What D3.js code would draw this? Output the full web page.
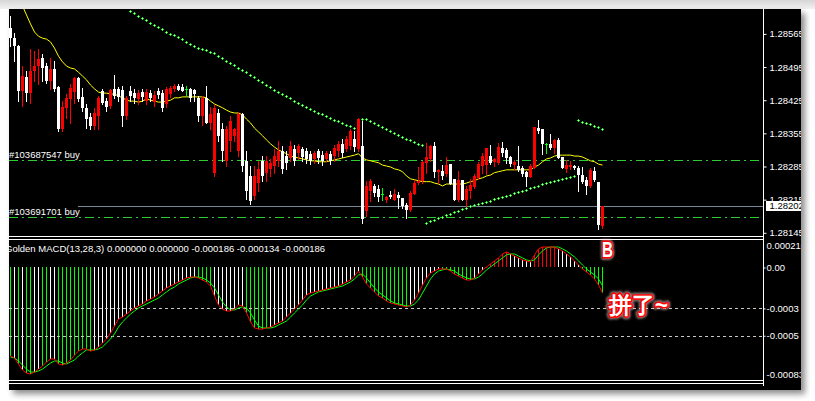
<!DOCTYPE html>
<html><head><meta charset="utf-8">
<script src="https://cdn.jsdelivr.net/npm/d3@7"></script>
<style>
html,body{margin:0;padding:0;background:#fff;overflow:hidden;}
svg{display:block;}
text{font-family:"Liberation Sans",Arial,sans-serif;}
</style></head><body>
<svg id="chart" width="815" height="401"></svg>
<script>
// ---- price bars (oldest first) ----
const open = [1.28577,1.28556,1.28539,1.28444,1.28474,1.28440,1.28487,1.28497,1.28514,1.28497,
1.28465,1.28491,1.28453,1.28364,1.28409,1.28428,1.28442,1.28472,1.28432,1.28409,
1.28390,1.28371,1.28392,1.28444,1.28423,1.28413,1.28449,1.28449,1.28447,1.28392,
1.28444,1.28440,1.28428,1.28442,1.28423,1.28440,1.28421,1.28444,1.28440,1.28417,
1.28438,1.28449,1.28455,1.28453,1.28449,1.28449,1.28447,1.28430,1.28392,1.28430,
1.28377,1.28272,1.28398,1.28364,1.28297,1.28339,1.28350,1.28318,1.28396,1.28297,
1.28265,1.28223,1.28250,1.28297,1.28272,1.28280,1.28286,1.28297,1.28318,1.28307,
1.28303,1.28322,1.28314,1.28322,1.28318,1.28312,1.28301,1.28318,1.28309,1.28301,
1.28312,1.28307,1.28318,1.28333,1.28322,1.28328,1.28343,1.28322,1.28328,1.28191,
1.28234,1.28244,1.28238,1.28227,1.28215,1.28225,1.28215,1.28225,1.28219,1.28204,
1.28193,1.28227,1.28250,1.28255,1.28293,1.28301,1.28328,1.28274,1.28276,1.28269,
1.28290,1.28259,1.28215,1.28257,1.28215,1.28234,1.28242,1.28261,1.28286,1.28288,
1.28307,1.28295,1.28293,1.28324,1.28320,1.28305,1.28288,1.28286,1.28282,1.28274,
1.28263,1.28282,1.28366,1.28364,1.28333,1.28333,1.28324,1.28341,1.28305,1.28280,
1.28284,1.28286,1.28282,1.28267,1.28257,1.28244,1.28276,1.28253,1.28160];
const high = [1.28602,1.28567,1.28541,1.28497,1.28487,1.28533,1.28529,1.28533,1.28522,1.28503,
1.28514,1.28508,1.28455,1.28423,1.28438,1.28459,1.28474,1.28474,1.28451,1.28417,
1.28398,1.28409,1.28434,1.28449,1.28430,1.28449,1.28478,1.28453,1.28455,1.28434,
1.28455,1.28449,1.28447,1.28449,1.28449,1.28447,1.28444,1.28451,1.28447,1.28453,
1.28455,1.28459,1.28459,1.28459,1.28455,1.28451,1.28449,1.28434,1.28434,1.28455,
1.28411,1.28415,1.28406,1.28377,1.28371,1.28392,1.28366,1.28400,1.28398,1.28318,
1.28286,1.28286,1.28297,1.28307,1.28307,1.28301,1.28322,1.28339,1.28328,1.28318,
1.28339,1.28331,1.28333,1.28326,1.28324,1.28318,1.28318,1.28322,1.28318,1.28318,
1.28318,1.28331,1.28339,1.28343,1.28350,1.28364,1.28360,1.28387,1.28385,1.28255,
1.28259,1.28248,1.28246,1.28240,1.28223,1.28234,1.28238,1.28231,1.28219,1.28208,
1.28234,1.28257,1.28284,1.28297,1.28335,1.28331,1.28337,1.28280,1.28288,1.28305,
1.28290,1.28259,1.28276,1.28257,1.28244,1.28259,1.28269,1.28295,1.28314,1.28324,
1.28331,1.28303,1.28335,1.28337,1.28324,1.28307,1.28299,1.28328,1.28286,1.28276,
1.28290,1.28368,1.28383,1.28364,1.28335,1.28354,1.28343,1.28345,1.28305,1.28299,
1.28297,1.28288,1.28286,1.28284,1.28263,1.28282,1.28284,1.28253,1.28202];
const low = [1.28539,1.28508,1.28423,1.28413,1.28423,1.28419,1.28465,1.28459,1.28465,1.28461,
1.28449,1.28444,1.28360,1.28360,1.28387,1.28377,1.28419,1.28423,1.28402,1.28366,
1.28364,1.28364,1.28364,1.28417,1.28402,1.28409,1.28430,1.28423,1.28371,1.28385,
1.28423,1.28419,1.28417,1.28423,1.28417,1.28423,1.28413,1.28430,1.28402,1.28411,
1.28432,1.28444,1.28447,1.28444,1.28434,1.28423,1.28423,1.28381,1.28373,1.28377,
1.28364,1.28265,1.28339,1.28297,1.28286,1.28318,1.28339,1.28307,1.28276,1.28217,
1.28206,1.28217,1.28234,1.28255,1.28255,1.28265,1.28272,1.28286,1.28272,1.28280,
1.28297,1.28288,1.28301,1.28297,1.28293,1.28290,1.28293,1.28293,1.28288,1.28297,
1.28290,1.28297,1.28307,1.28305,1.28318,1.28322,1.28318,1.28318,1.28166,1.28181,
1.28212,1.28223,1.28212,1.28215,1.28210,1.28219,1.28215,1.28198,1.28198,1.28177,
1.28191,1.28227,1.28248,1.28250,1.28272,1.28297,1.28263,1.28250,1.28259,1.28265,
1.28248,1.28215,1.28212,1.28215,1.28202,1.28219,1.28240,1.28259,1.28272,1.28269,
1.28290,1.28286,1.28290,1.28307,1.28293,1.28286,1.28280,1.28276,1.28265,1.28244,
1.28263,1.28282,1.28356,1.28312,1.28314,1.28322,1.28314,1.28303,1.28282,1.28274,
1.28280,1.28280,1.28234,1.28250,1.28227,1.28242,1.28255,1.28154,1.28156];
const close = [1.28556,1.28539,1.28444,1.28476,1.28440,1.28487,1.28497,1.28512,1.28493,1.28465,
1.28491,1.28449,1.28364,1.28411,1.28430,1.28451,1.28472,1.28428,1.28409,1.28385,
1.28371,1.28398,1.28430,1.28419,1.28411,1.28447,1.28434,1.28432,1.28392,1.28430,
1.28434,1.28430,1.28440,1.28432,1.28442,1.28430,1.28436,1.28436,1.28409,1.28449,
1.28451,1.28455,1.28447,1.28444,1.28449,1.28430,1.28438,1.28392,1.28430,1.28377,
1.28396,1.28409,1.28350,1.28318,1.28364,1.28381,1.28364,1.28396,1.28286,1.28234,
1.28212,1.28265,1.28280,1.28265,1.28297,1.28293,1.28307,1.28318,1.28280,1.28293,
1.28328,1.28297,1.28328,1.28305,1.28301,1.28297,1.28314,1.28303,1.28297,1.28314,
1.28297,1.28324,1.28333,1.28314,1.28343,1.28360,1.28326,1.28385,1.28175,1.28244,
1.28255,1.28229,1.28221,1.28227,1.28221,1.28221,1.28227,1.28219,1.28202,1.28193,
1.28229,1.28250,1.28255,1.28295,1.28305,1.28328,1.28274,1.28278,1.28265,1.28288,
1.28248,1.28215,1.28257,1.28215,1.28238,1.28246,1.28265,1.28290,1.28307,1.28324,
1.28293,1.28301,1.28326,1.28314,1.28303,1.28290,1.28295,1.28278,1.28269,1.28263,
1.28286,1.28368,1.28360,1.28333,1.28333,1.28324,1.28341,1.28303,1.28282,1.28288,
1.28288,1.28282,1.28267,1.28253,1.28244,1.28278,1.28257,1.28162,1.28202];

// ---- moving average (yellow) ----
const maLine = [1.28666,1.28651,1.28638,1.28624,1.28605,1.28586,1.28569,1.28560,1.28556,1.28554,
1.28548,1.28535,1.28518,1.28506,1.28497,1.28493,1.28491,1.28484,1.28476,1.28468,
1.28457,1.28449,1.28442,1.28440,1.28440,1.28438,1.28438,1.28434,1.28430,1.28425,
1.28423,1.28423,1.28421,1.28423,1.28428,1.28425,1.28423,1.28421,1.28421,1.28423,
1.28425,1.28430,1.28430,1.28432,1.28432,1.28432,1.28432,1.28432,1.28432,1.28430,
1.28423,1.28417,1.28413,1.28409,1.28404,1.28400,1.28398,1.28398,1.28394,1.28385,
1.28377,1.28366,1.28358,1.28350,1.28341,1.28333,1.28326,1.28320,1.28316,1.28312,
1.28307,1.28305,1.28303,1.28301,1.28299,1.28297,1.28297,1.28295,1.28295,1.28295,
1.28297,1.28299,1.28301,1.28303,1.28305,1.28307,1.28309,1.28312,1.28303,1.28299,
1.28297,1.28295,1.28293,1.28288,1.28286,1.28284,1.28280,1.28278,1.28274,1.28265,
1.28259,1.28257,1.28255,1.28253,1.28253,1.28253,1.28250,1.28248,1.28244,1.28248,
1.28248,1.28248,1.28248,1.28248,1.28250,1.28253,1.28255,1.28259,1.28261,1.28265,
1.28267,1.28272,1.28274,1.28276,1.28278,1.28278,1.28278,1.28278,1.28278,1.28278,
1.28278,1.28284,1.28288,1.28295,1.28301,1.28303,1.28307,1.28309,1.28309,1.28309,
1.28309,1.28307,1.28307,1.28305,1.28301,1.28297,1.28295,1.28290,1.28288];

// ---- parabolic SAR dots (null = not shown) ----
const sar = [null,null,null,null,null,null,null,null,null,null,
null,null,null,null,null,null,null,null,null,null,
null,null,null,null,null,null,null,null,null,null,
1.28613,1.28609,1.28602,1.28598,1.28594,1.28588,1.28584,1.28579,1.28575,1.28569,
1.28565,1.28562,1.28558,1.28554,1.28548,1.28543,1.28539,1.28535,
1.28533,1.28531,1.28527,1.28524,1.28518,1.28514,1.28508,1.28503,1.28499,1.28493,
1.28489,1.28484,1.28478,1.28474,1.28468,1.28463,1.28457,1.28453,1.28447,1.28442,
1.28438,1.28434,1.28430,1.28423,1.28419,1.28415,1.28411,1.28406,1.28402,1.28398,
1.28396,1.28392,1.28387,1.28383,1.28381,1.28377,1.28373,1.28371,1.28366,
null,
1.28385,1.28385,1.28381,1.28377,1.28373,1.28368,1.28364,1.28360,1.28356,1.28352,
1.28347,1.28343,1.28341,1.28337,1.28333,1.28331,
1.28166,1.28169,1.28172,1.28176,1.28178,1.28182,1.28185,1.28188,1.28191,1.28195,
1.28198,1.28201,1.28203,1.28206,1.28208,1.28210,1.28212,1.28216,1.28219,1.28221,
1.28223,1.28225,1.28228,1.28231,1.28234,1.28236,1.28239,1.28242,1.28244,1.28247,
1.28250,1.28253,1.28255,1.28257,1.28259,1.28261,1.28263,1.28264,
1.28383,1.28379,1.28377,1.28375,1.28371,1.28368,1.28364];

// ---- Golden MACD(13,28,3) ----
const macdMain = [-0.000648,-0.000663,-0.000707,-0.000751,-0.000773,-0.000780,-0.000766,-0.000744,-0.000722,-0.000692,
-0.000670,-0.000670,-0.000707,-0.000714,-0.000700,-0.000678,-0.000641,-0.000612,-0.000597,-0.000597,
-0.000612,-0.000604,-0.000582,-0.000553,-0.000524,-0.000480,-0.000429,-0.000377,-0.000363,-0.000341,
-0.000319,-0.000297,-0.000282,-0.000267,-0.000245,-0.000231,-0.000216,-0.000194,-0.000172,-0.000150,
-0.000136,-0.000121,-0.000106,-0.000092,-0.000077,-0.000070,-0.000070,-0.000077,-0.000092,-0.000106,
-0.000136,-0.000209,-0.000275,-0.000304,-0.000319,-0.000319,-0.000304,-0.000275,-0.000282,-0.000333,
-0.000399,-0.000443,-0.000451,-0.000451,-0.000443,-0.000436,-0.000421,-0.000407,-0.000392,-0.000363,
-0.000333,-0.000304,-0.000275,-0.000238,-0.000201,-0.000187,-0.000179,-0.000172,-0.000165,-0.000158,
-0.000150,-0.000143,-0.000136,-0.000121,-0.000106,-0.000092,-0.000062,-0.000026,-0.000070,-0.000121,
-0.000150,-0.000179,-0.000209,-0.000223,-0.000245,-0.000260,-0.000267,-0.000275,-0.000282,-0.000289,
-0.000275,-0.000238,-0.000187,-0.000128,-0.000077,-0.000040,-0.000026,-0.000011,-0.000011,-0.000011,
-0.000026,-0.000048,-0.000062,-0.000077,-0.000092,-0.000092,-0.000077,-0.000048,-0.000018,0.000004,
0.000026,0.000048,0.000070,0.000099,0.000114,0.000099,0.000084,0.000070,0.000055,0.000048,
0.000040,0.000092,0.000136,0.000150,0.000150,0.000150,0.000150,0.000136,0.000121,0.000099,
0.000077,0.000048,0.000018,-0.000011,-0.000033,-0.000055,-0.000084,-0.000128,-0.000186];
const macdSignal = [-0.000656,-0.000663,-0.000685,-0.000714,-0.000744,-0.000766,-0.000766,-0.000758,-0.000744,-0.000722,
-0.000700,-0.000685,-0.000685,-0.000700,-0.000707,-0.000692,-0.000678,-0.000648,-0.000626,-0.000604,
-0.000604,-0.000604,-0.000597,-0.000582,-0.000553,-0.000524,-0.000487,-0.000436,-0.000399,-0.000370,
-0.000341,-0.000319,-0.000297,-0.000282,-0.000267,-0.000253,-0.000238,-0.000223,-0.000201,-0.000179,
-0.000158,-0.000143,-0.000121,-0.000106,-0.000092,-0.000077,-0.000070,-0.000070,-0.000077,-0.000092,
-0.000114,-0.000150,-0.000201,-0.000253,-0.000289,-0.000311,-0.000311,-0.000297,-0.000289,-0.000297,
-0.000333,-0.000385,-0.000429,-0.000443,-0.000443,-0.000443,-0.000436,-0.000421,-0.000407,-0.000392,
-0.000363,-0.000333,-0.000304,-0.000275,-0.000238,-0.000209,-0.000194,-0.000179,-0.000172,-0.000165,
-0.000158,-0.000150,-0.000143,-0.000136,-0.000121,-0.000106,-0.000084,-0.000055,-0.000048,-0.000077,
-0.000114,-0.000150,-0.000179,-0.000201,-0.000223,-0.000245,-0.000260,-0.000267,-0.000275,-0.000282,
-0.000282,-0.000267,-0.000238,-0.000187,-0.000136,-0.000084,-0.000048,-0.000026,-0.000018,-0.000011,
-0.000018,-0.000026,-0.000048,-0.000062,-0.000077,-0.000084,-0.000084,-0.000070,-0.000048,-0.000018,
0.000004,0.000026,0.000048,0.000070,0.000092,0.000099,0.000099,0.000084,0.000070,0.000055,
0.000048,0.000055,0.000092,0.000121,0.000143,0.000150,0.000150,0.000150,0.000136,0.000121,
0.000099,0.000077,0.000048,0.000018,-0.000011,-0.000033,-0.000055,-0.000084,-0.000134];
// histogram tone per bar: g = green, w = white, r = red
const histTone = ("gwgwggwwgg" + "ww" + "ggggggggg" + "wwwwwwwwwwwwwwwwwwwwwwwwww" + "gggg" +
  "wwwwwwww" + "gggggg" + "wwwwwwwwwwwwwwwwwwwwwww" + "gggggggggggg" + "wwwwwwww" +
  "gggggggg" + "www" + "rrrrrr" + "wwwwww" + "rrrrrr" + "wwwwww" + "gggggg").split("");

// ---- axis labels, levels, texts ----
const priceTicks = [1.28565,1.28495,1.28425,1.28355,1.28285,1.28215,1.28145];
const bidPrice = 1.28202;
const orderPrices = [1.28299, 1.28179];
const orderLabels = ["#103687547 buy", "#103691701 buy"];
const macdTicks = [0.00021, 0, -0.0003, -0.0005, -0.00083];
const macdTickLabels = ["0.000210", "0.00", "-0.0003", "-0.0005", "-0.00083"];
const macdLevels = [-0.0003, -0.0005];
const macdTitle = "Golden MACD(13,28,3) 0.000000 0.000000 -0.000186 -0.000134 -0.000186";
const noteLetter = "B";
const noteText = "拼了~";

// ---- layout ----
const W = 815, H = 401;
const L = 9, T = 9, R = 801, B = 390;   // chart window
const AX = 763;                          // price axis line
const mainBottom = 236, subTop = 239.5, subBottom = 380.5;

const svg = d3.select("#chart");
const defs = svg.append("defs");

const tg = defs.append("linearGradient").attr("id", "topBand").attr("x1", 0).attr("y1", 0).attr("x2", 0).attr("y2", 1);
tg.append("stop").attr("offset", 0).attr("stop-color", "#d6d6d6");
tg.append("stop").attr("offset", 1).attr("stop-color", "#f1f1f1");
const sh = defs.append("filter").attr("id", "soft").attr("x", "-5%").attr("y", "-5%").attr("width", "110%").attr("height", "110%");
sh.append("feGaussianBlur").attr("stdDeviation", 3);
const glow = defs.append("filter").attr("id", "glow").attr("x", "-30%").attr("y", "-30%").attr("width", "160%").attr("height", "160%");
glow.append("feGaussianBlur").attr("stdDeviation", 1.2);

defs.append("clipPath").attr("id", "mainClip").append("rect").attr("x", L).attr("y", T).attr("width", AX - L).attr("height", mainBottom - T);
defs.append("clipPath").attr("id", "subClip").append("rect").attr("x", L).attr("y", subTop + 0.5).attr("width", AX - L).attr("height", subBottom - subTop - 1);
defs.append("clipPath").attr("id", "winClip").append("rect").attr("x", L).attr("y", T).attr("width", R - L).attr("height", B - T);

// window backdrop
svg.append("rect").attr("width", W).attr("height", H).attr("fill", "#ffffff");
svg.append("rect").attr("width", W).attr("height", T).attr("fill", "url(#topBand)");
svg.append("rect").attr("x", L + 4).attr("y", T + 4).attr("width", R - L).attr("height", B - T)
  .attr("fill", "#000").attr("opacity", 0.45).attr("filter", "url(#soft)");
svg.append("rect").attr("x", L).attr("y", T).attr("width", R - L).attr("height", B - T).attr("fill", "#000");

// scales
const x = d3.scaleLinear().domain([0, open.length - 1]).range([10, 602]);
const y = d3.scaleLinear().domain([1.28145, 1.28565]).range([232.8, 33.9]);
const ym = d3.scaleLinear().domain([-0.00083, 0.00021]).range([380.8, 238.8]);
const py = v => Math.round(y(v));

// ---------- main panel ----------
const main = svg.append("g").attr("clip-path", "url(#mainClip)").attr("shape-rendering", "crispEdges");

// order lines
orderPrices.forEach((p, k) => {
  main.append("line").attr("x1", L).attr("x2", AX).attr("y1", py(p) + 0.5).attr("y2", py(p) + 0.5)
    .attr("stroke", "#2ecc2e").attr("stroke-dasharray", "9,4,2,4");
});
// bid line
main.append("line").attr("x1", 78).attr("x2", AX).attr("y1", py(bidPrice) + 0.5).attr("y2", py(bidPrice) + 0.5)
  .attr("stroke", "#778899");

// moving average
main.append("path").datum(maLine)
  .attr("d", d3.line().x((d, i) => x(i) + 0.5).y(d => y(d)))
  .attr("fill", "none").attr("stroke", "#ffff00").attr("stroke-width", 1).attr("shape-rendering", "auto");

// candles
const idx = d3.range(open.length);
const tone = i => close[i] === open[i] ? "#00ff00" : (close[i] > open[i] ? "#ff0000" : "#ffffff");
main.selectAll("rect.wick").data(idx).join("rect").attr("class", "wick")
  .attr("x", i => x(i)).attr("width", 1)
  .attr("y", i => py(high[i])).attr("height", i => Math.max(1, py(low[i]) - py(high[i]) + 1))
  .attr("fill", tone);
main.selectAll("rect.body").data(idx).join("rect").attr("class", "body")
  .attr("x", i => x(i) - 1).attr("width", 3)
  .attr("y", i => Math.min(py(open[i]), py(close[i])))
  .attr("height", i => Math.max(1, Math.abs(py(open[i]) - py(close[i]))))
  .attr("fill", tone);

// SAR crosses
const sarG = main.selectAll("g.sar").data(idx.filter(i => sar[i] !== null)).join("g").attr("class", "sar")
  .attr("transform", i => `translate(${x(i)},${py(sar[i])})`);
sarG.append("rect").attr("x", -1).attr("y", 0).attr("width", 3).attr("height", 1).attr("fill", "#00ff00");
sarG.append("rect").attr("x", 0).attr("y", -1).attr("width", 1).attr("height", 3).attr("fill", "#00ff00");
sarG.append("rect").attr("x", 0).attr("y", 0).attr("width", 1).attr("height", 1).attr("fill", "#e4ffe4");

// order labels
orderPrices.forEach((p, k) => {
  main.append("text").attr("x", L).attr("y", py(p) - 2).attr("fill", "#fff").attr("font-size", 9.5)
    .text(orderLabels[k]);
});

// ---------- MACD panel ----------
const sub = svg.append("g").attr("clip-path", "url(#subClip)").attr("shape-rendering", "crispEdges");
const z = Math.round(ym(0));
const histColor = { g: "#00ff00", w: "#ffffff", r: "#ff0000" };
sub.selectAll("rect.hist").data(idx).join("rect").attr("class", "hist")
  .attr("x", i => x(i)).attr("width", 1)
  .attr("y", i => Math.min(z, Math.round(ym(macdMain[i]))))
  .attr("height", i => Math.max(1, Math.abs(Math.round(ym(macdMain[i])) - z)))
  .attr("fill", i => histColor[histTone[i]]);
macdLevels.forEach(v => {
  sub.append("line").attr("x1", L).attr("x2", AX).attr("y1", Math.round(ym(v)) + 0.5).attr("y2", Math.round(ym(v)) + 0.5)
    .attr("stroke", "#c8c8c8").attr("stroke-dasharray", "3,3");
});
const ml = d3.line().x((d, i) => x(i) + 0.5).y(d => ym(d));
sub.append("path").datum(macdSignal).attr("d", ml).attr("fill", "none").attr("stroke", "#00ff00").attr("shape-rendering", "auto");
sub.append("path").datum(macdMain).attr("d", ml).attr("fill", "none").attr("stroke", "#ff0000").attr("shape-rendering", "auto");
sub.append("text").attr("x", 5).attr("y", 252).attr("fill", "#fff").attr("font-size", 9.5).text(macdTitle);

// ---------- frame lines ----------
const frame = svg.append("g").attr("stroke", "#fff").attr("shape-rendering", "crispEdges");
[mainBottom + 0.5, subTop, subBottom, subBottom + 3].forEach(v => {
  frame.append("line").attr("x1", L).attr("x2", AX).attr("y1", v).attr("y2", v);
});
frame.append("line").attr("x1", AX + 0.5).attr("x2", AX + 0.5).attr("y1", T).attr("y2", 386);

// ---------- right axes ----------
const axG = svg.append("g").attr("clip-path", "url(#winClip)");
const pAxis = d3.axisRight(y).tickValues(priceTicks).tickSize(3).tickPadding(3).tickFormat(d3.format(".5f"));
const pa = axG.append("g").attr("transform", `translate(${AX + 0.5},0)`).call(pAxis);
pa.select(".domain").remove();
pa.selectAll("line").attr("stroke", "#fff");
pa.selectAll("text").attr("fill", "#fff").attr("font-size", 9.5).attr("font-family", "Liberation Sans, Arial, sans-serif");

const mAxis = d3.axisRight(ym).tickValues(macdTicks).tickSize(2).tickPadding(1).tickFormat((d, i) => macdTickLabels[i]);
const ma = axG.append("g").attr("transform", `translate(${AX + 0.5},0)`).call(mAxis);
ma.select(".domain").remove();
ma.selectAll("line").attr("stroke", "#fff");
ma.selectAll("text").attr("fill", "#fff").attr("font-size", 9.5).attr("font-family", "Liberation Sans, Arial, sans-serif");
ma.selectAll(".tick").filter((d, i) => i === 0).select("text").attr("dy", "1.05em");
ma.selectAll(".tick").filter((d, i) => i === macdTicks.length - 1).select("text").attr("dy", "-0.35em");
ma.selectAll(".tick").filter((d, i) => i === 0 || i === macdTicks.length - 1).select("line").remove();

// bid price box
const by = py(bidPrice);
axG.append("rect").attr("x", AX + 3).attr("y", by - 5).attr("width", 40).attr("height", 10).attr("fill", "#fff");
axG.append("text").attr("x", AX + 6.5).attr("y", by).attr("dy", "0.35em").attr("fill", "#000")
  .attr("font-size", 9.5).text(d3.format(".5f")(bidPrice));

// ---------- hand-written notes ----------
function note(txt, tx, ty, size, len) {
  const g = svg.append("g");
  const base = t => t.attr("x", tx).attr("y", ty).attr("font-size", size).attr("font-weight", 900)
    .attr("font-family", "'Noto Sans CJK SC', 'Noto Sans', sans-serif").text(txt)
    .attr("textLength", len).attr("lengthAdjust", "spacingAndGlyphs");
  base(g.append("text")).attr("fill", "none").attr("stroke", "#ffd0d0").attr("stroke-width", 6)
    .attr("stroke-linejoin", "round").attr("opacity", 0.55).attr("filter", "url(#glow)");
  base(g.append("text")).attr("fill", "#fff").attr("stroke", "#ff0000").attr("stroke-width", 3.2)
    .attr("stroke-linejoin", "round").attr("paint-order", "stroke");
}
note(noteLetter, 602, 257, 22, 11);
note(noteText, 609, 313, 23, 59);
</script>
</body></html>
